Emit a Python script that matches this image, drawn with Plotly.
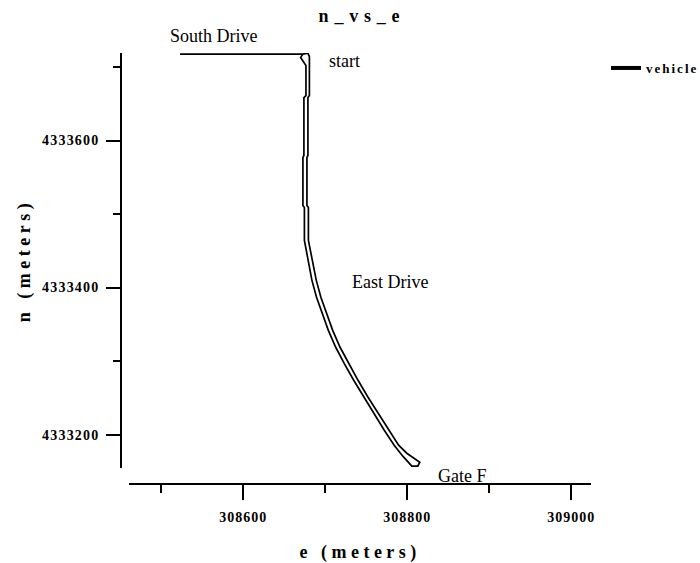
import plotly.graph_objects as go

# vehicle track (e, n) in meters
east = [308522.9, 308672.7, 308678.8, 308680.6, 308680.6, 308678.8, 308678.8, 308677.6,
        308677.6, 308679.4, 308679.4, 308682.1, 308684.9, 308689.0, 308694.6, 308701.2,
        308709.0, 308718.0, 308728.4, 308739.9, 308752.1, 308764.6, 308777.2, 308789.4,
        308799.4, 308810.3, 308815.2, 308812.8, 308805.5, 308794.5,
        308784.0, 308771.9, 308759.2, 308746.8, 308734.6, 308723.0, 308712.7, 308703.7,
        308695.9, 308689.3, 308683.7, 308679.5, 308676.7, 308674.5, 308674.5, 308672.7,
        308672.7, 308673.9, 308673.9, 308676.4, 308676.4, 308673.9, 308669.9, 308672.7,
        308522.9]
north = [4333717.5, 4333717.5, 4333718.9, 4333714.1, 4333661.1, 4333658.4, 4333579.6, 4333576.9,
         4333511.7, 4333509.0, 4333464.1, 4333447.8, 4333432.9, 4333409.8, 4333386.7, 4333364.9,
         4333341.8, 4333318.8, 4333297.0, 4333273.9, 4333250.8, 4333229.1, 4333206.0, 4333185.6,
         4333174.7, 4333166.6, 4333162.5, 4333157.1, 4333157.1, 4333170.7,
         4333185.6, 4333206.0, 4333229.1, 4333250.8, 4333273.9, 4333297.0, 4333318.8, 4333341.8,
         4333364.9, 4333386.7, 4333409.8, 4333432.9, 4333447.8, 4333464.1, 4333509.0, 4333511.7,
         4333576.9, 4333579.6, 4333658.4, 4333661.1, 4333701.9, 4333706.0, 4333712.8, 4333717.5,
         4333717.5]

x_ticks = [308600, 308800, 309000]
y_ticks = [4333200, 4333400, 4333600]
x_range = [308461, 309024]
y_range = [4333154.6, 4333719.0]

# place-name labels: e in meters, vertical position as fraction of plot area
label_text = ["South Drive", "start", "East Drive", "Gate F"]
label_e = [308564.3, 308723.9, 308778.7, 308867.6]
label_y = [1.0395, 0.981, 0.468, 0.018]

SERIF = "Liberation Serif"

def spaced(s, px):
    return f'<span style="letter-spacing:{px}px">{s}</span>'

fig = go.Figure()
fig.add_trace(go.Scatter(x=east, y=north, mode="lines",
                         line=dict(color="black", width=1.7),
                         showlegend=False, hoverinfo="skip"))
fig.add_trace(go.Scatter(x=[None], y=[None], mode="lines",
                         line=dict(color="black", width=4),
                         name=spaced("vehicle", 2)))

for t, e, yy in zip(label_text, label_e, label_y):
    fig.add_annotation(x=e, y=yy, xref="x", yref="paper", text=t, showarrow=False,
                       font=dict(family=SERIF, size=18, color="black"),
                       xanchor="center", yanchor="middle")

tickfont = dict(family=SERIF, size=14, color="black", weight="bold")
titlefont = dict(family=SERIF, size=18, color="black", weight="bold")

fig.update_layout(
    width=700, height=563,
    margin=dict(l=121, r=109, t=53, b=79),
    paper_bgcolor="white", plot_bgcolor="white",
    title=dict(text=spaced("n_vs_e", 5.8), x=362 / 700, xanchor="center",
               y=1 - 16 / 563, yanchor="middle", automargin=False,
               font=dict(family=SERIF, size=18, color="black", weight="bold")),
    xaxis=dict(range=x_range, domain=[0.0177, 1], anchor="free", position=0,
               automargin=False,
               showgrid=False, zeroline=False, showline=True, linecolor="black", linewidth=1.5,
               ticks="outside", ticklen=15, tickwidth=1.5, tickcolor="black",
               tickvals=x_ticks, ticktext=[spaced(str(v), 1.0) for v in x_ticks],
               tickfont=tickfont, ticklabelstandoff=5,
               minor=dict(dtick=100, ticks="outside", ticklen=8, tickwidth=1.5,
                          tickcolor="black", showgrid=False),
               title=dict(text=spaced("e (meters)", 4.5), font=titlefont, standoff=22)),
    yaxis=dict(range=y_range, domain=[0.0371, 1], anchor="free", position=0,
               automargin=False,
               showgrid=False, zeroline=False, showline=True, linecolor="black", linewidth=1.5,
               ticks="outside", ticklen=14, tickwidth=1.5, tickcolor="black",
               tickvals=y_ticks, ticktext=[spaced(str(v), 1.2) for v in y_ticks],
               tickfont=tickfont, ticklabelstandoff=4,
               minor=dict(dtick=100, ticks="outside", ticklen=7, tickwidth=1.5,
                          tickcolor="black", showgrid=False),
               title=dict(text=spaced("n (meters)", 4.5), font=titlefont, standoff=6)),
    legend=dict(x=606 / 700, y=1 - 53 / 563, xref="container", yref="container",
                xanchor="left", yanchor="top",
                font=dict(family=SERIF, size=13, color="black", weight="bold"),
                bgcolor="rgba(0,0,0,0)"),
)

fig.write_html("out.html", config={"responsive": False, "displayModeBar": False},
               post_script="document.body.style.margin='0';")
